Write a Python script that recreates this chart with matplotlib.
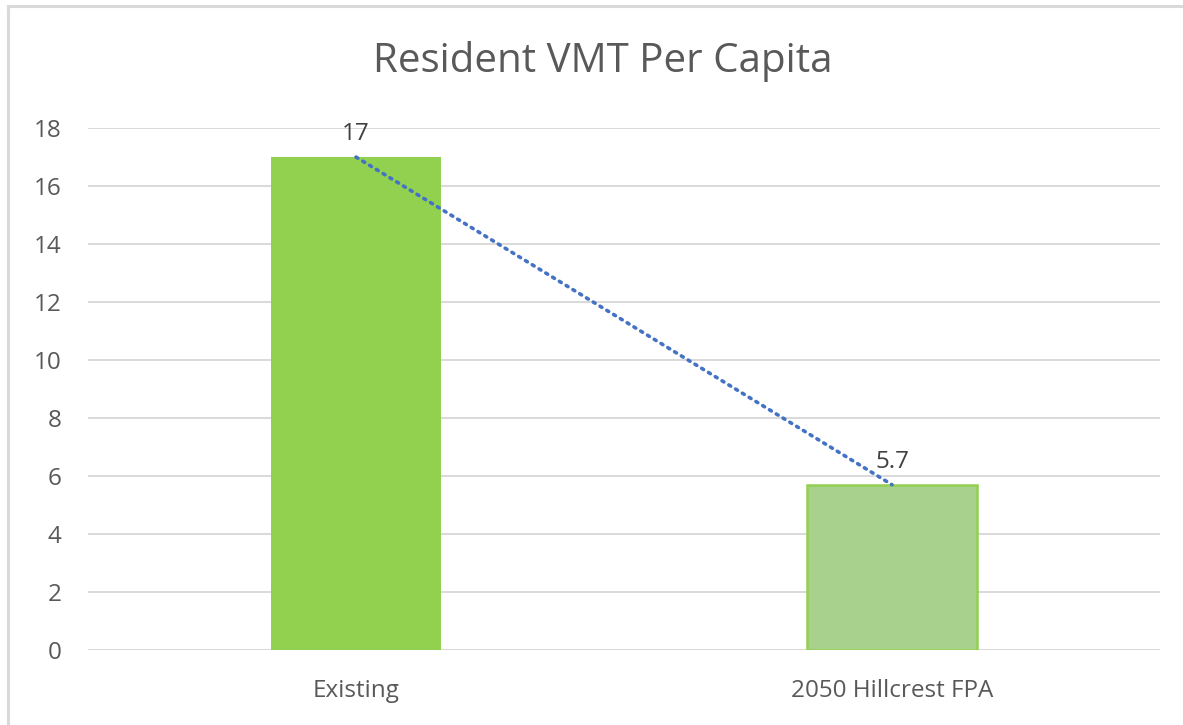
import numpy as np
import matplotlib.pyplot as plt
from matplotlib.lines import Line2D

# chart data
categories = ["Existing", "2050 Hillcrest FPA"]
vmt_per_capita = [17, 5.7]
y_ticks = [0, 2, 4, 6, 8, 10, 12, 14, 16, 18]

plt.rcParams['font.family'] = ['Open Sans', 'DejaVu Sans']

fig = plt.figure(figsize=(11.83, 7.25), dpi=100)
ax = fig.add_axes([0.0744, 0.1034, 0.9062, 0.72])

x = np.arange(len(categories))
ax.bar(x[0], vmt_per_capita[0], width=0.317, color="#92D050", zorder=3)
ax.bar(x[1], vmt_per_capita[1], width=0.317, color="#A9D18E",
       edgecolor="#92D050", linewidth=1.8, zorder=3)

# linear trendline through the series
coef = np.polyfit(x, vmt_per_capita, 1)
ax.plot(x, np.polyval(coef, x), color="#4472C4", linestyle=(0, (0.6, 1.6)),
        linewidth=2.6, dash_capstyle="round", zorder=4)

for xi, v in zip(x, vmt_per_capita):
    ax.annotate(f"{v:g}", (xi, v), xytext=(0, 8), textcoords="offset points",
                ha="center", va="bottom", fontsize=17.5, color="#404040", zorder=5)

ax.set_xlim(-0.5, 1.5)
ax.set_ylim(0, 18)
ax.set_yticks(y_ticks)
ax.set_xticks(x)
ax.set_xticklabels(categories)
ax.tick_params(axis="both", length=0, labelsize=17.5, colors="#595959")
ax.tick_params(axis="y", pad=19)
ax.tick_params(axis="x", pad=21)
ax.yaxis.grid(True, color="#D9D9D9", linewidth=1.4, zorder=0)
for s in ax.spines.values():
    s.set_visible(False)

fig.text(603 / 1183, 1 - 62 / 725, "Resident VMT Per Capita", ha="center",
         va="center", fontsize=29, color="#595959")

# outer chart frame (top and left edges)
fig.add_artist(Line2D([8 / 1183, 8 / 1183], [0, 1 - 6 / 725],
                      transform=fig.transFigure, color="#D9D9D9", linewidth=2.2))
fig.add_artist(Line2D([8 / 1183, 1], [1 - 6 / 725, 1 - 6 / 725],
                      transform=fig.transFigure, color="#D9D9D9", linewidth=2.2))

fig.savefig("out.png", dpi=100)
